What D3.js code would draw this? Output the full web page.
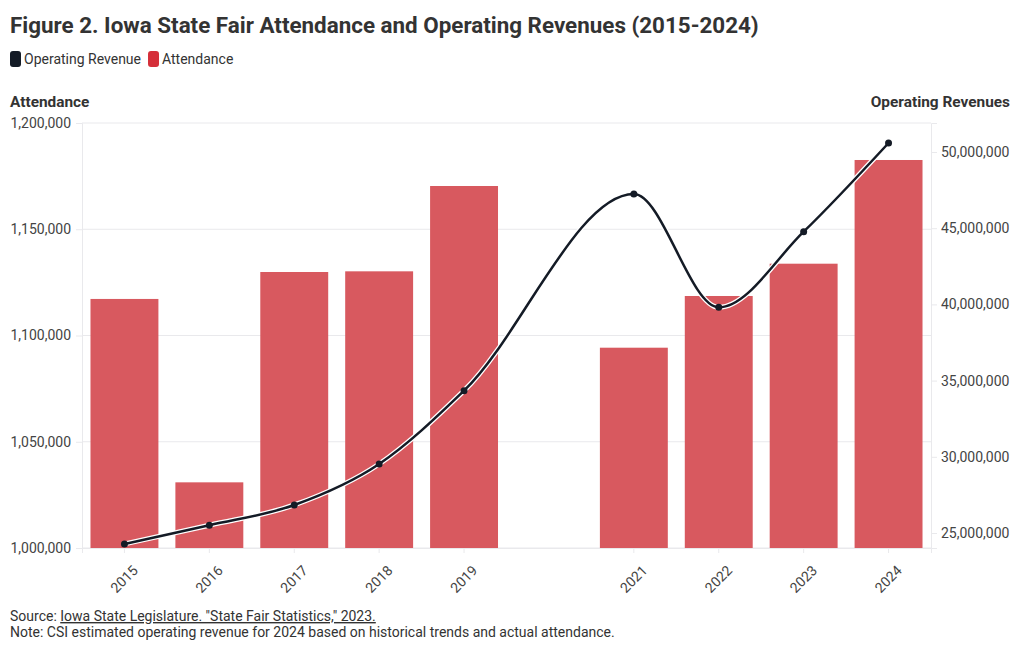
<!DOCTYPE html>
<html>
<head>
<meta charset="utf-8">
<script src="https://cdn.jsdelivr.net/npm/d3@7/dist/d3.min.js"></script>
<style>
  html, body { margin: 0; padding: 0; background: #fff; }
  svg { display: block; font-family: Roboto, "Noto Sans", sans-serif; }
</style>
</head>
<body>
<svg id="chart" width="1020" height="650"></svg>
<script>
// ---- Data ----
const years = ["2015", "2016", "2017", "2018", "2019", "2020", "2021", "2022", "2023", "2024"];
const attendance = [1117200, 1030900, 1129880, 1130200, 1170350, null, 1094260, 1118590, 1133790, 1182590];
const revenue = [24280000, 25510000, 26840000, 29530000, 34340000, null, 47240000, 39810000, 44770000, 50590000];
const xTickLabels = ["2015", "2016", "2017", "2018", "2019", "2021", "2022", "2023", "2024"];
const leftTicks = [1000000, 1050000, 1100000, 1150000, 1200000];
const rightTicks = [25000000, 30000000, 35000000, 40000000, 45000000, 50000000];

const titleText = "Figure 2. Iowa State Fair Attendance and Operating Revenues (2015-2024)";
const legendItems = [{ label: "Operating Revenue", color: "#141b26" }, { label: "Attendance", color: "#d52f39" }];

// ---- Layout ----
const svg = d3.select("#chart");
const m = { left: 82, right: 931, top: 123, bottom: 548 };
const textColor = "#333";

const x = d3.scaleBand().domain(years).range([m.left, m.right]).paddingInner(0.2).paddingOuter(0.1);
const yL = d3.scaleLinear().domain([1000000, 1200000]).range([m.bottom, m.top]);
const yR = d3.scaleLinear().domain([24016000, 51903000]).range([m.bottom, m.top]);
const fmt = d3.format(",");

// Title
svg.append("text").attr("x", 10).attr("y", 33)
  .attr("font-size", 22.4).attr("font-weight", 700).attr("fill", textColor)
  .text(titleText);

// Legend
let lx = 10;
legendItems.forEach(it => {
  const g = svg.append("g");
  g.append("rect").attr("x", lx).attr("y", 51).attr("width", 11).attr("height", 16)
    .attr("rx", 3).attr("fill", it.color);
  const t = g.append("text").attr("x", lx + 14).attr("y", 64)
    .attr("font-size", 14).attr("fill", textColor).text(it.label);
  lx += 14 + t.node().getComputedTextLength() + 7;
});

// Axis titles
svg.append("text").attr("x", 10).attr("y", 107).attr("font-size", 15.4)
  .attr("font-weight", 700).attr("fill", textColor).text("Attendance");
svg.append("text").attr("x", 1010).attr("y", 107).attr("font-size", 15.4)
  .attr("font-weight", 700).attr("fill", textColor).attr("text-anchor", "end").text("Operating Revenues");

// Gridlines
svg.append("g").selectAll("line").data(leftTicks).join("line")
  .attr("x1", m.left).attr("x2", m.right)
  .attr("y1", d => yL(d)).attr("y2", d => yL(d))
  .attr("stroke", "#e9e9ec").attr("stroke-width", 1);

// Left axis
const gL = svg.append("g").attr("transform", `translate(${m.left},0)`)
  .call(d3.axisLeft(yL).tickValues(leftTicks).tickFormat(fmt).tickSize(6).tickPadding(5));
gL.select(".domain").attr("stroke", "#e9e9ec");
gL.selectAll(".tick line").attr("stroke", "#e9e9ec");
gL.selectAll("text").attr("font-size", 14).attr("fill", "#444").attr("font-family", "Roboto");

// Right axis
const gR = svg.append("g").attr("transform", `translate(${m.right},0)`)
  .call(d3.axisRight(yR).tickValues(rightTicks).tickFormat(fmt).tickSize(6).tickPadding(4));
gR.select(".domain").attr("stroke", "#e9e9ec");
gR.selectAll(".tick line").attr("stroke", "#e9e9ec");
gR.selectAll("text").attr("font-size", 14).attr("fill", "#444").attr("font-family", "Roboto");

// Bottom axis
const gB = svg.append("g").attr("transform", `translate(0,${m.bottom})`)
  .call(d3.axisBottom(x).tickValues(xTickLabels).tickSize(5).tickPadding(4));
gB.select(".domain").attr("stroke", "#e9e9ec");
gB.selectAll(".tick line").attr("stroke", "#e9e9ec");
gB.selectAll("text").attr("font-size", 14).attr("fill", "#444").attr("font-family", "Roboto")
  .attr("text-anchor", "end").attr("dy", null)
  .attr("transform", "translate(8,17) rotate(-45)");

// Bars
const barData = years.map((yr, i) => ({ yr, v: attendance[i] })).filter(d => d.v != null);
svg.append("g").selectAll("rect").data(barData).join("rect")
  .attr("x", d => x(d.yr)).attr("width", x.bandwidth())
  .attr("y", d => yL(d.v)).attr("height", d => yL.range()[0] - yL(d.v))
  .attr("fill", "#d8595f");

// Line
const lineData = years.map((yr, i) => ({ yr, v: revenue[i] })).filter(d => d.v != null);
const line = d3.line().x(d => x(d.yr) + x.bandwidth() / 2).y(d => yR(d.v)).curve(d3.curveMonotoneX);
svg.append("path").datum(lineData).attr("d", line)
  .attr("fill", "none").attr("stroke", "#fff").attr("stroke-width", 5).attr("stroke-linejoin", "round");
svg.append("path").datum(lineData).attr("d", line)
  .attr("fill", "none").attr("stroke", "#141b26").attr("stroke-width", 2.5).attr("stroke-linejoin", "round");
svg.append("g").selectAll("circle").data(lineData).join("circle")
  .attr("cx", d => x(d.yr) + x.bandwidth() / 2).attr("cy", d => yR(d.v)).attr("r", 3.5)
  .attr("fill", "#141b26");

// Footer
const src = svg.append("text").attr("x", 10).attr("y", 621).attr("font-size", 14).attr("fill", textColor);
src.append("tspan").text("Source: ");
src.append("tspan").attr("text-decoration", "underline").text("Iowa State Legislature. \"State Fair Statistics,\" 2023.");
svg.append("text").attr("x", 10).attr("y", 637).attr("font-size", 14).attr("fill", textColor)
  .text("Note: CSI estimated operating revenue for 2024 based on historical trends and actual attendance.");
</script>
</body>
</html>
